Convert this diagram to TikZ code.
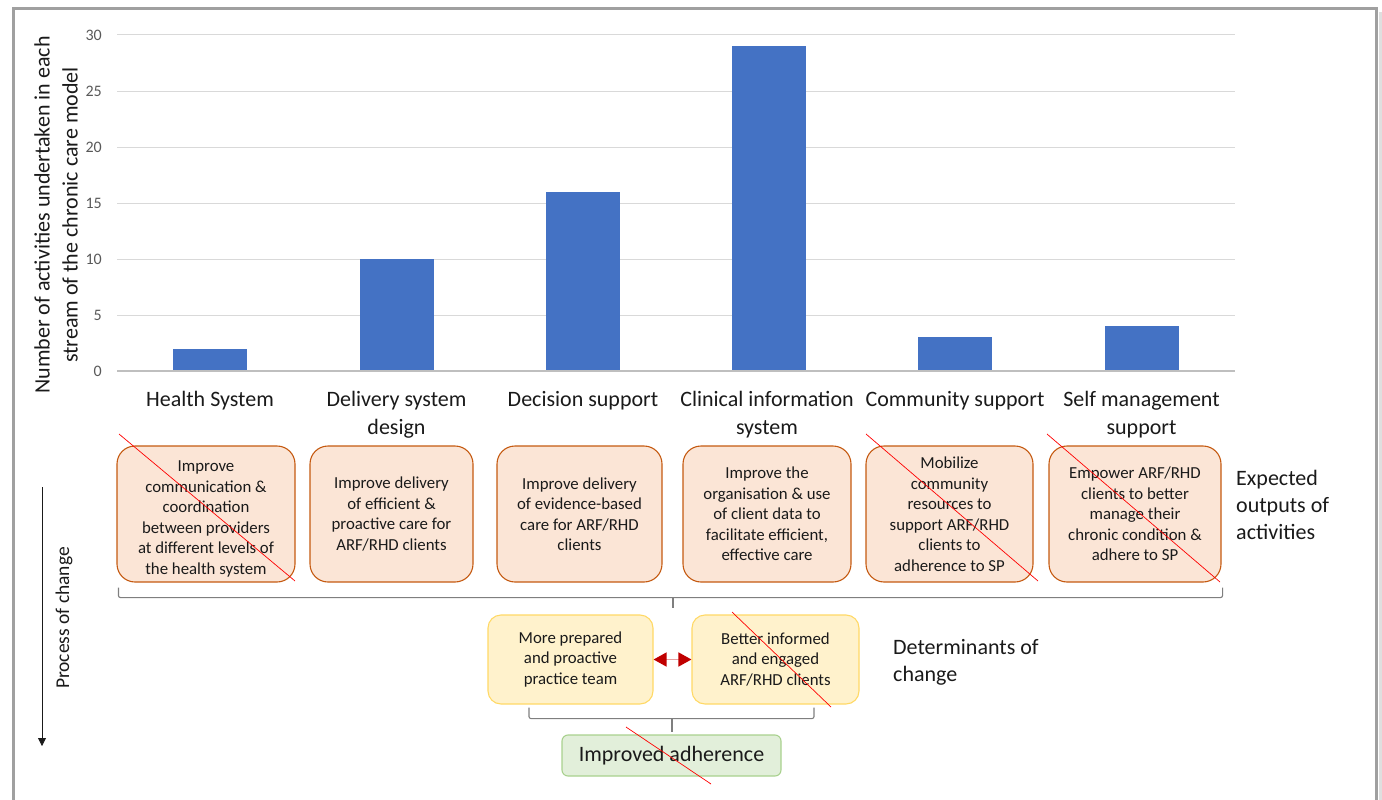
\documentclass[tikz,border=0pt]{standalone}
\usepackage{fontspec}
\setmainfont{Carlito}
\usetikzlibrary{arrows.meta,calc}
\definecolor{barblue}{HTML}{4472C4}
\definecolor{gridc}{HTML}{D9D9D9}
\definecolor{axisc}{HTML}{BFBFBF}
\definecolor{tickc}{HTML}{595959}
\definecolor{ofill}{HTML}{FBE5D6}
\definecolor{oline}{HTML}{C55A11}
\definecolor{yfill}{HTML}{FFF2CC}
\definecolor{yline}{HTML}{FFD966}
\definecolor{gfill}{HTML}{E2EFDA}
\definecolor{gline}{HTML}{A9D18E}
\definecolor{framec}{HTML}{A0A0A0}
\definecolor{brkc}{HTML}{7F7F7F}
\definecolor{darkred}{HTML}{C00000}
\definecolor{pinkline}{HTML}{E6A0A0}
\definecolor{txt}{HTML}{1A1A1A}
\tikzset{
  obox/.style={draw=oline, fill=ofill, line width=1.1pt, rounded corners=18pt, align=center,
    text=txt, font=\fontsize{16.8}{20.5}\selectfont, inner sep=2pt},
  otext/.style={align=center, text=txt, font=\fontsize{16.8}{20.5}\selectfont, inner sep=0pt},
  ybox/.style={draw=yline, fill=yfill, line width=1.1pt, rounded corners=13pt, align=center,
    text=txt, font=\fontsize{16.8}{20.5}\selectfont, minimum height=89pt},
  gbox/.style={draw=gline, fill=gfill, line width=1.1pt, rounded corners=6pt, align=center,
    text=txt, font=\fontsize{22}{26}\selectfont, minimum width=219pt, minimum height=41pt},
  catlab/.style={anchor=north, align=center, inner sep=0pt, text=txt,
    font=\fontsize{22}{28}\selectfont},
  sidelab/.style={anchor=north west, align=left, inner sep=0pt, text=txt,
    font=\fontsize{22}{27}\selectfont},
  ticklab/.style={anchor=east, inner sep=0pt, text=tickc, font=\fontsize{16}{18}\selectfont},
  brk/.style={draw=brkc, line width=1.1pt, rounded corners=2pt},
  strike/.style={draw=red, line width=0.7pt},
}
\begin{document}
\begin{tikzpicture}[x=1pt,y=-1pt]
\useasboundingbox (0,0) rectangle (1382,800);
% frame
\fill[gray!25] (1379,12) rectangle (1382,800);
\draw[framec, line width=3pt] (13.5,800) -- (13.5,8.5) -- (1376.5,8.5) -- (1376.5,800);
% grid and ticks
\foreach \v in {5,10,...,30} {
  \draw[gridc, line width=1pt] (117,{371-11.2*\v}) -- (1235,{371-11.2*\v});
}
\foreach \v in {0,5,...,30} {
  \node[ticklab] (t\v) at (102,{371-11.2*\v}) {\v};
}
% bars
\foreach \c/\h in {210/2, 396.5/10, 583/16, 769/29, 955/3, 1141.5/4} {
  \fill[barblue] ({\c-37},371) rectangle ({\c+37},{371-11.2*\h});
}
\draw[axisc, line width=1.4pt] (117,371) -- (1235,371);
% y title
\node[rotate=90, align=center, text=txt, font=\fontsize{22}{28}\selectfont] (ytitle) at (56,215)
  {Number of activities undertaken in each\\stream of the chronic care model};
% category labels
\node[catlab] (c1) at (210,387) {\strut Health System};
\node[catlab] (c2) at (396.5,387) {\strut Delivery system\\design};
\node[catlab] (c3) at (583,387) {\strut Decision support};
\node[catlab] (c4) at (767,387) {\strut Clinical information\\system};
\node[catlab] (c5) at (955,387) {\strut Community support};
\node[catlab] (c6) at (1141.5,387) {\strut Self management\\support};
% output boxes
\node[obox, minimum width=178pt, minimum height=136pt] (b1) at (206,514) {};
\node[otext] (b1t) at (206,519)
  {Improve\\communication \&\\coordination\\between providers\\at different levels of\\the health system};
\node[obox, minimum width=163pt, minimum height=136pt] (b2) at (391.5,514)
  {Improve delivery\\of efficient \&\\proactive care for\\ARF/RHD clients};
\node[obox, minimum width=165pt, minimum height=136pt] (b3) at (579.5,514)
  {Improve delivery\\of evidence-based\\care for ARF/RHD\\clients};
\node[obox, minimum width=168pt, minimum height=136pt] (b4) at (767,514)
  {Improve the\\organisation \& use\\of client data to\\facilitate efficient,\\effective care};
\node[obox, minimum width=167pt, minimum height=136pt] (b5) at (949.5,514)
  {Mobilize\\community\\resources to\\support ARF/RHD\\clients to\\adherence to SP};
\node[obox, minimum width=172pt, minimum height=136pt] (b6) at (1135,514)
  {Empower ARF/RHD\\clients to better\\manage their\\chronic condition \&\\adhere to SP};
\node[sidelab] (outlab) at (1236,466) {\strut Expected\\outputs of\\activities};
% bracket under output boxes
\coordinate (br1) at (673,597);
\coordinate (br1e) at (673,608);
\draw[brk] ([xshift=2pt,yshift=-5pt]b1.south west) -- ([xshift=2pt,yshift=-15pt]b1.south west)
  -- ([xshift=1pt,yshift=-15pt]b6.south east) -- ([xshift=1pt,yshift=-5pt]b6.south east);
\draw[brk] (br1) -- (br1e);
% determinants
\node[ybox, minimum width=165pt] (ya) at (570.5,659.5) {More prepared\\and proactive\\practice team};
\node[ybox, minimum width=167pt] (yb) at (775.5,659.5) {Better informed\\and engaged\\ARF/RHD clients};
\draw[pinkline, line width=1.5pt, {Triangle[length=13pt,width=14pt,color=darkred]}-{Triangle[length=13pt,width=14pt,color=darkred]}]
  (ya.east) -- (yb.west);
\node[sidelab] (detlab) at (893,635) {\strut Determinants of\\change};
% bracket under determinants
\coordinate (br2) at (672,718);
\coordinate (br2e) at (672,732);
\draw[brk] ([xshift=-41.5pt,yshift=-3pt]ya.south) -- ([xshift=-41.5pt,yshift=-14pt]ya.south)
  -- ([xshift=38.5pt,yshift=-14pt]yb.south) -- ([xshift=38.5pt,yshift=-3pt]yb.south);
\draw[brk] (br2) -- (br2e);
% improved adherence
\node[gbox] (ga) at (671.5,755.5) {Improved adherence};
% process of change
\coordinate (pa) at (42,487);
\coordinate (pb) at (42,746);
\draw[txt, line width=0.8pt, -{Triangle[length=8pt,width=8pt]}] (pa) -- (pb);
\node[rotate=90, text=txt, font=\fontsize{19.5}{24}\selectfont] (proc) at (64,618) {Process of change};
% red strike lines
\draw[strike] (119,434) -- (295,581);
\draw[strike] (866,434) -- (1038,581);
\draw[strike] (1047,434) -- (1220,582);
\draw[strike] (732,612) -- (831,707);
\draw[strike] (626,727) -- (711,784);
\end{tikzpicture}
\end{document}
